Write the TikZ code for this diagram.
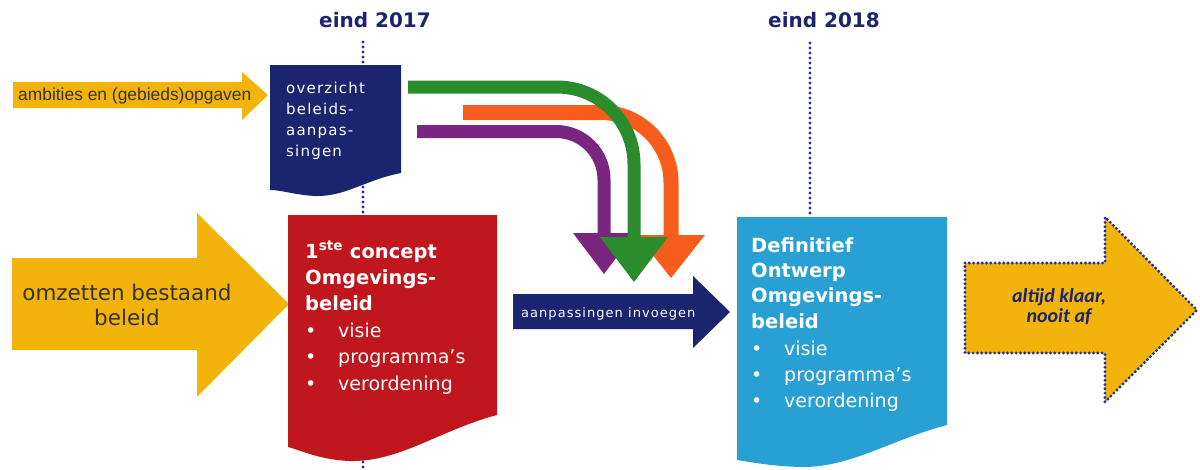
\documentclass[tikz,border=0pt]{standalone}
\usepackage{fontspec}
\setmainfont{DejaVu Sans}
\newfontfamily\carl{Carlito}
\newfontfamily\libs{Liberation Sans}
\definecolor{navy}{RGB}{27,36,110}
\definecolor{dotblue}{RGB}{32,48,150}
\definecolor{ored}{RGB}{192,22,30}
\definecolor{sky}{RGB}{40,160,212}
\definecolor{gold}{RGB}{242,180,10}
\definecolor{agreen}{RGB}{42,140,42}
\definecolor{aorange}{RGB}{246,92,28}
\definecolor{apurple}{RGB}{122,38,128}
\definecolor{txtdark}{RGB}{55,50,40}
\tikzset{
  vline/.style={dotblue, line width=3.2pt, line cap=round, dash pattern=on 0pt off 5pt},
  lbl/.style={inner sep=0pt, anchor=base west},
  wt/.style={lbl, text=white},
  bigb/.style={wt, font=\fontsize{19.5}{19.5}\selectfont\bfseries},
  bigr/.style={wt, font=\fontsize{19}{19}\selectfont},
  bend/.style={line width=13pt, rounded corners=#1},
}
\newcommand{\blt}[1]{\makebox[33pt][l]{•}#1}
\begin{document}
\begin{tikzpicture}[x=1pt,y=-1pt]
\useasboundingbox (0,0) rectangle (1200,469);
% timeline labels
\node[inner sep=0pt, anchor=base, text=navy, font=\fontsize{20}{20}\selectfont\bfseries] (t17) at (375,27) {eind 2017};
\node[inner sep=0pt, anchor=base, text=navy, font=\fontsize{20}{20}\selectfont\bfseries] (t18) at (824,27) {eind 2018};
\coordinate (v17a) at (363,42); \coordinate (v17b) at (363,469);
\coordinate (v18a) at (810,43); \coordinate (v18b) at (810,216);
\draw[vline] (v17a) -- (v17b);
\draw[vline] (v18a) -- (v18b);
% small yellow arrow
\fill[gold] (13,82) -- (242,82) -- (242,72) -- (268,95) -- (242,120) -- (242,108) -- (13,108) -- cycle;
\node[lbl, text=txtdark, font=\libs\fontsize{17.4}{17.4}\selectfont] (amb) at (18,100) {ambities en (gebieds)opgaven};
% big yellow arrow
\fill[gold] (12,258) -- (197,258) -- (197,213) -- (289,304) -- (197,397) -- (197,350) -- (12,350) -- cycle;
\node[inner sep=0pt, align=center, text=txtdark, font=\fontsize{21.5}{25}\selectfont] (omz) at (127,305) {omzetten bestaand\\beleid};
% navy document
\fill[navy] (270,65) -- (401,65) -- (401,173) .. controls (365,180) and (345,197) .. (315,196) .. controls (295,195) and (282,190) .. (270,190) -- cycle;
\begin{scope}[font=\fontsize{15}{15}\selectfont\addfontfeature{LetterSpace=8}]
\node[wt] (o1) at (286,93) {overzicht};
\node[wt] (o2) at (286,114) {beleids-};
\node[wt] (o3) at (286,135) {aanpas-};
\node[wt] (o4) at (286,156) {singen};
\end{scope}
% red document
\fill[ored] (288,215) -- (497,215) -- (497,415) .. controls (440,430) and (400,462) .. (350,461) .. controls (320,460) and (300,450) .. (288,447) -- cycle;
\node[bigb] (r1) at (305,258) {1\textsuperscript{ste} concept};
\node[bigb] (r2) at (305,284) {Omgevings-};
\node[bigb] (r3) at (305,310) {beleid};
\node[bigr] (r4) at (305,337) {\blt{visie}};
\node[bigr] (r5) at (305,363) {\blt{programma’s}};
\node[bigr] (r6) at (305,390) {\blt{verordening}};
% curved arrows
\draw[bend=48, apurple] (417,131.5) -| (604,234);
\fill[apurple] (573,233) -- (635,233) -- (604,274) -- cycle;
\draw[bend=70, aorange, line width=15pt] (463,112.5) -| (671,236);
\fill[aorange] (637,235) -- (705,235) -- (671,278) -- cycle;
\draw[bend=77, agreen] (408,87) -| (634,238);
\fill[agreen] (600,237) -- (668,237) -- (634,282) -- cycle;
% navy arrow
\fill[navy] (513,294) -- (693,294) -- (693,276) -- (730,312) -- (693,348) -- (693,329) -- (513,329) -- cycle;
\node[wt, font=\fontsize{13}{13}\selectfont\addfontfeature{LetterSpace=8}] (inv) at (521,317) {aanpassingen invoegen};
% blue document
\fill[sky] (737,217) -- (947,217) -- (947,425) .. controls (890,440) and (850,468) .. (800,467) .. controls (770,466) and (750,462) .. (737,460) -- cycle;
\node[bigb] (b1) at (751,252) {Definitief};
\node[bigb] (b2) at (751,277) {Ontwerp};
\node[bigb] (b3) at (751,302) {Omgevings-};
\node[bigb] (b4) at (751,328) {beleid};
\node[bigr] (b5) at (751,355) {\blt{visie}};
\node[bigr] (b6) at (751,381) {\blt{programma’s}};
\node[bigr] (b7) at (751,407) {\blt{verordening}};
% dotted outlined arrow
\filldraw[fill=gold, draw=dotblue, line width=3.2pt, line cap=round, dash pattern=on 0pt off 4.3pt] (965,263) -- (1105,263) -- (1105,217) -- (1197,310) -- (1105,402) -- (1105,353) -- (965,353) -- cycle;
\node[inner sep=0pt, align=center, text=navy, font=\carl\fontsize{20}{20}\selectfont\bfseries\itshape] (alt) at (1059,307) {altijd klaar,\\nooit af};
\end{tikzpicture}
\end{document}
